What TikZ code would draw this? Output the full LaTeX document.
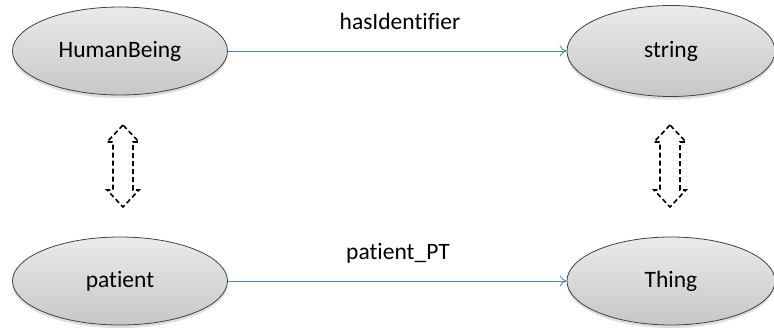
\documentclass[tikz,border=0pt]{standalone}
\usepackage{fontspec}
\setmainfont[Ligatures=CommonOff]{Carlito}
\usetikzlibrary{shadows,arrows.meta,shapes.geometric}
\definecolor{edgeblue}{HTML}{4F81BD}
\tikzset{
  concept/.style={ellipse, draw=black!75, line width=0.8pt, minimum width=215pt, minimum height=88pt,
    top color=white!92!black, bottom color=black!22, inner sep=0pt,
    drop shadow={shadow xshift=0pt, shadow yshift=-3pt, opacity=0.25},
    font=\fontsize{23.5}{28}\selectfont},
  rel/.style={draw=edgeblue, line width=0.8pt, -{To[length=7pt,width=11pt]}},
  rellabel/.style={font=\fontsize{23.5}{28}\selectfont, text=black},
  eqarrow/.style={draw=black, line width=1.6pt, dash pattern=on 5pt off 3pt}
}
\begin{document}
\begin{tikzpicture}[x=1pt,y=-1pt]
\useasboundingbox (0,0) rectangle (774,327);
\node[concept] (hb) at (120,51) {HumanBeing};
\node[concept, minimum width=208pt, minimum height=91pt] (str) at (671,51) {string};
\node[concept] (pat) at (120,281) {patient};
\node[concept, minimum width=208pt] (thing) at (671,281) {Thing};
\draw[rel] (hb.east) -- (str.west);
\draw[rel] (pat.east) -- (thing.west);
\node[rellabel] (l1) at (400,21) {hasIdentifier};
\node[rellabel] (l2) at (398,253) {patient\_PT};
\foreach \cx/\nm in {123/leq, 670/req}{
  \coordinate (\nm) at (\cx,166);
  \draw[eqarrow] ([yshift=41pt]\nm) -- ++(-16,17) -- ++(6,0) -- ++(0,48) -- ++(-6,0)
     -- ++(16,17) -- ++(16,-17) -- ++(-6,0) -- ++(0,-48) -- ++(6,0) -- cycle;
}
\end{tikzpicture}
\end{document}
